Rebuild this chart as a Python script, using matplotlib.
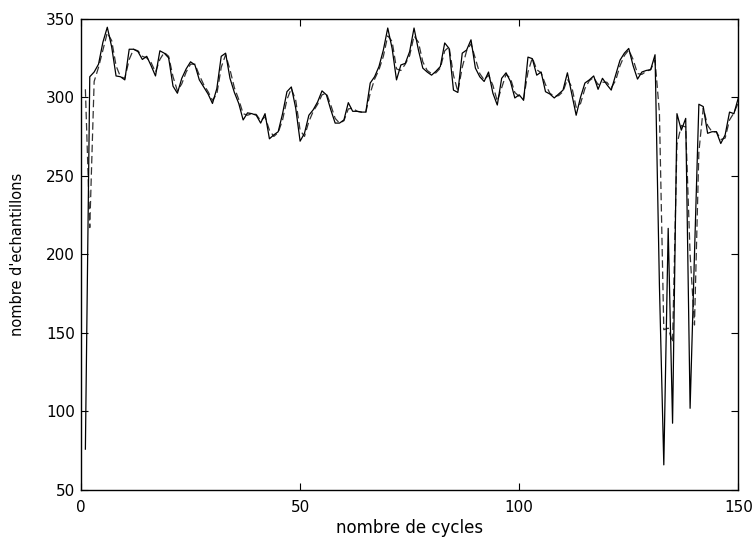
import matplotlib
matplotlib.use("Agg")
import matplotlib.pyplot as plt

plt.rcParams['font.family'] = ['DejaVu Sans']

cycles = list(range(1, 151))

mesure = [
    76, 313, 316, 321, 335, 344.5, 332, 313.5, 313, 311,
    330.5, 330.5, 329, 324, 326, 320, 313.5, 329.5, 328, 325,
    307, 302.5, 312, 318, 322.5, 320.5, 311, 306.5, 302, 296,
    305.5, 326, 328, 312, 303, 296, 285.5, 290, 289.5, 288.5,
    283.5, 289.5, 273.5, 276, 278, 289.5, 303.5, 306.5, 293, 272,
    277, 288.5, 292, 297, 304, 301.5, 292, 283.5, 283.5, 285.5,
    296.5, 291, 291, 290.5, 290.5, 309, 313, 319.5, 330, 344,
    331, 311, 320.5, 321.5, 329, 344, 330, 318.5, 316, 314,
    316.5, 319.5, 334.5, 331, 304.5, 303, 328, 330, 336.5, 318.5,
    313, 310, 316, 302.5, 295, 312, 315.5, 310, 299.5, 301.5,
    298, 325.5, 324.5, 314, 316, 303.5, 302, 299.5, 302, 304.5,
    315.5, 302, 288.5, 300, 309, 311, 313.5, 305, 312, 308,
    304.5, 314, 323.5, 328, 331, 320, 311.5, 316, 317, 317.5,
    327, 180, 66, 216.5, 92.5, 289.5, 279, 286.5, 102, 200,
    295.5, 294, 277, 278, 278, 270.5, 276, 290.5, 289.5, 299.5,
]

estimation = [
    305, 217, 310, 319, 330, 341, 336, 320, 313, 312,
    324, 330.5, 329.5, 326, 325, 322, 316, 324, 328.5, 326,
    313, 304, 308.5, 316, 321, 321, 314, 308, 303.5, 298,
    302, 319, 327, 317.5, 306, 298.5, 289.5, 288.5, 289.5, 289,
    285, 287.5, 279, 275, 277.5, 285.5, 298.5, 305.5, 298, 279,
    275, 284.5, 291, 295.5, 301.5, 302.5, 295, 286.5, 283.5, 285,
    292.5, 293, 291, 290.5, 290.5, 302.5, 311.5, 317.5, 326, 339,
    335.5, 318, 317, 321, 326.5, 339, 335, 322.5, 317, 315,
    315.5, 318.5, 329.5, 332, 314, 303.5, 319, 329.5, 334, 324.5,
    315, 311, 314, 307.5, 297.5, 306, 314.5, 312, 303, 300.5,
    299, 316, 325, 317.5, 315.5, 308, 302.5, 300.5, 301, 303.5,
    311.5, 306.5, 293.5, 296, 305.5, 310.5, 312.5, 308, 309.5, 309.5,
    306, 310.5, 320, 326.5, 330, 324, 315, 314.5, 316.5, 317.5,
    323.5, 290, 152, 153, 144, 270, 282, 281, 200, 155,
    265, 293, 282, 278, 278, 273, 274, 285.5, 290, 296.5,
]

xticks = [0, 50, 100, 150]
yticks = [50, 100, 150, 200, 250, 300, 350]

fig = plt.figure(figsize=(7.55, 5.41), dpi=100)
ax = fig.add_axes([81 / 755, 1 - 490 / 541, (738.3 - 81) / 755, (490 - 18.6) / 541])

ax.plot(cycles, estimation, color='#333333', lw=0.9, linestyle=(0, (6, 3)))
ax.plot(cycles, mesure, color='black', lw=0.9)

ax.set_xlim(0, 150)
ax.set_ylim(50, 350)
ax.set_xticks(xticks)
ax.set_yticks(yticks)
ax.tick_params(direction='in', length=5, width=0.8, top=True, right=True,
               labelsize=11)
ax.tick_params(axis='x', pad=7)
ax.tick_params(axis='y', pad=4.5)
for s in ax.spines.values():
    s.set_linewidth(1.0)

ax.set_xlabel("nombre de cycles", fontsize=12, labelpad=3)
ax.set_ylabel("nombre d'echantillons", fontsize=10.5, labelpad=15)

fig.savefig("out.png", dpi=100)
